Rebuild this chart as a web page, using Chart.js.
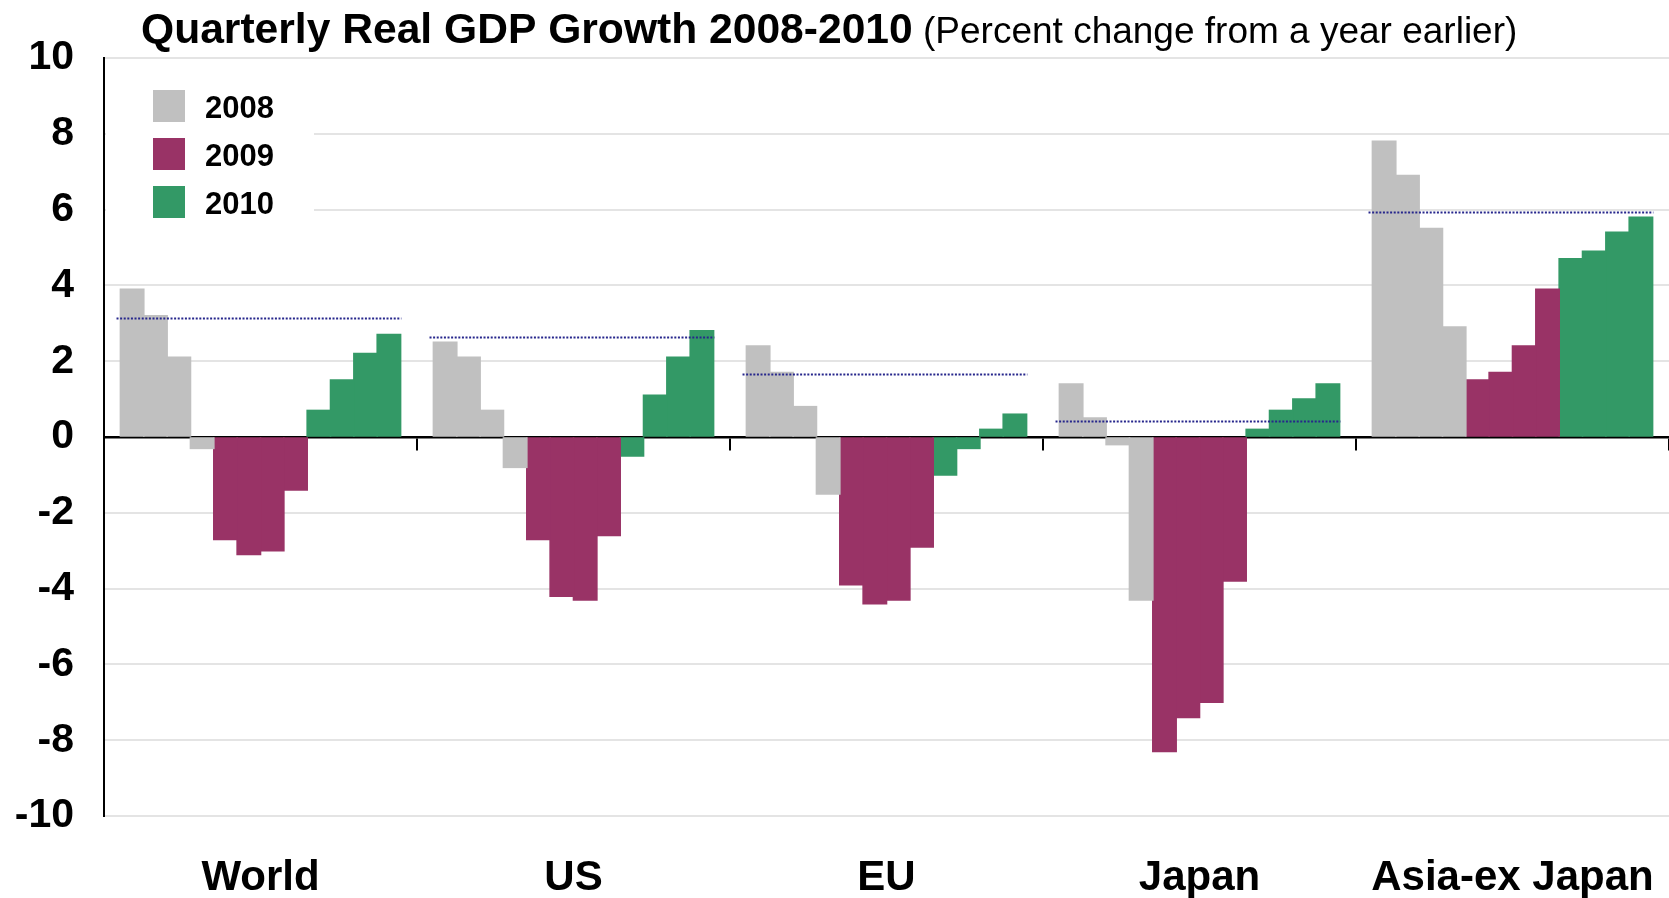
<!DOCTYPE html>
<html>
<head>
<meta charset="utf-8">
<title>Quarterly Real GDP Growth 2008-2010</title>
<script src="https://cdn.jsdelivr.net/npm/chart.js@4.4.1/dist/chart.umd.min.js"></script>
<style>
    html, body { margin: 0; padding: 0; background: #fff; }
    #gdpChart { display: block; }
</style>
</head>
<body>
<canvas id="gdpChart" width="1669" height="898"></canvas>
<script>
var FONT = '"Liberation Sans", Arial, sans-serif';

//////////////////////////////////////
//              Data                //
//////////////////////////////////////

var regions = ['World', 'US', 'EU', 'Japan', 'Asia-ex Japan'];
var quarters = ['2008 Q1', '2008 Q2', '2008 Q3', '2008 Q4',
                '2009 Q1', '2009 Q2', '2009 Q3', '2009 Q4',
                '2010 Q1', '2010 Q2', '2010 Q3', '2010 Q4'];
var years = ['2008', '2009', '2010'];
var yearColors = ['#c0c0c0', '#993366', '#339966'];

// percent change from a year earlier, 2008 Q1 .. 2010 Q4
var world       = [3.9, 3.2, 2.1, -0.3, -2.7, -3.1, -3.0, -1.4, 0.7, 1.5, 2.2, 2.7];
var us          = [2.5, 2.1, 0.7, -0.8, -2.7, -4.2, -4.3, -2.6, -0.5, 1.1, 2.1, 2.8];
var eu          = [2.4, 1.7, 0.8, -1.5, -3.9, -4.4, -4.3, -2.9, -1.0, -0.3, 0.2, 0.6];
var japan       = [1.4, 0.5, -0.2, -4.3, -8.3, -7.4, -7.0, -3.8, 0.2, 0.7, 1.0, 1.4];
var asiaExJapan = [7.8, 6.9, 5.5, 2.9, 1.5, 1.7, 2.4, 3.9, 4.7, 4.9, 5.4, 5.8];

// average growth level for each region (dotted lines)
var trendLevel = [3.14, 2.63, 1.67, 0.41, 5.93];

var yTicks = [-10, -8, -6, -4, -2, 0, 2, 4, 6, 8, 10];

var titleMain = 'Quarterly Real GDP Growth 2008-2010';
var titleSub = '(Percent change from a year earlier)';

//////////////////////////////////////
//            Datasets              //
//////////////////////////////////////

var seriesByRegion = [world, us, eu, japan, asiaExJapan];
var datasets = [];

// one bar dataset per quarter, so each region gets 12 adjacent bars
quarters.forEach(function(q, i) {
    datasets.push({
        label: q,
        data: seriesByRegion.map(function(s) { return s[i]; }),
        backgroundColor: yearColors[Math.floor(i / 4)],
        borderWidth: 0,
        inflateAmount: 0.8,   // closes the hairline seams between neighbours
        barPercentage: 1.0,
        categoryPercentage: 0.895
    });
});

//////////////////////////////////////
//             Plugins              //
//////////////////////////////////////

// dotted average line across each region group
// (drawn here rather than as line datasets: an extra x axis halves the bar width in 4.5)
var averageLines = {
    id: 'averageLines',
    afterDatasetsDraw: function(chart) {
        var ctx = chart.ctx;
        var xs = chart.scales.x;
        var ys = chart.scales.y;
        var step = xs.getPixelForValue(1) - xs.getPixelForValue(0);
        ctx.save();
        ctx.strokeStyle = '#26268c';
        ctx.lineWidth = 2;
        ctx.setLineDash([2, 1.6]);
        trendLevel.forEach(function(v, i) {
            var cx = xs.getPixelForValue(i);
            var py = Math.round(ys.getPixelForValue(v)) + 0.5;
            ctx.beginPath();
            ctx.moveTo(cx - 0.46 * step, py);
            ctx.lineTo(cx + 0.45 * step, py);
            ctx.stroke();
        });
        ctx.restore();
    }
};

var titlePlugin = {
    id: 'titleText',
    afterDraw: function(chart) {
        var ctx = chart.ctx;
        ctx.save();
        ctx.fillStyle = '#000';
        ctx.textBaseline = 'alphabetic';
        ctx.font = 'bold 42.6px ' + FONT;
        ctx.fillText(titleMain, 141, 43);
        var w = ctx.measureText(titleMain).width;
        ctx.font = '37px ' + FONT;
        ctx.fillText(' ' + titleSub, 141 + w, 43);
        ctx.restore();
    }
};

var yearLegend = {
    id: 'yearLegend',
    beforeDatasetsDraw: function(chart) {
        var ctx = chart.ctx;
        var area = chart.chartArea;
        ctx.save();
        // white box behind the legend hides the grid lines
        ctx.fillStyle = '#fff';
        ctx.fillRect(area.left + 2, 72, 208, 160);
        ctx.font = 'bold 31px ' + FONT;
        ctx.textBaseline = 'middle';
        years.forEach(function(y, i) {
            var top = 90 + i * 48;
            ctx.fillStyle = yearColors[i];
            ctx.fillRect(153, top, 32, 32);
            ctx.fillStyle = '#000';
            ctx.fillText(y, 205, top + 19);
        });
        ctx.restore();
    }
};

//////////////////////////////////////
//             Chart                //
//////////////////////////////////////

var chart = new Chart(document.getElementById('gdpChart').getContext('2d'), {
    type: 'bar',
    data: {
        labels: regions,
        datasets: datasets
    },
    options: {
        responsive: false,
        animation: false,
        layout: { padding: { top: 58, right: 0, bottom: 0, left: 0 } },
        plugins: {
            legend: { display: false },
            tooltip: { enabled: false }
        },
        scales: {
            x: {
                type: 'category',
                position: 'bottom',
                offset: true,
                grid: { display: false, drawTicks: false },
                border: { display: false },
                ticks: {
                    color: '#000',
                    padding: 37,
                    maxRotation: 0,
                    autoSkip: false,
                    font: { family: FONT, size: 42, weight: 'bold' }
                },
                afterFit: function(scale) {
                    scale.height = 82;
                    scale.paddingLeft = 0;
                    scale.paddingRight = 0;
                }
            },
            // category axis drawn across zero, with tick marks between regions
            x0: {
                type: 'category',
                position: { y: 0 },
                offset: true,
                grid: {
                    offset: true,
                    drawOnChartArea: false,
                    drawTicks: true,
                    tickLength: 12,
                    color: '#000',
                    lineWidth: 2
                },
                border: { display: true, color: '#000', width: 2.5 },
                ticks: { display: false }
            },
            y: {
                min: -10,
                max: 10,
                afterBuildTicks: function(scale) {
                    scale.ticks = yTicks.map(function(v) { return { value: v }; });
                },
                grid: {
                    drawTicks: false,
                    lineWidth: 2,
                    color: function(ctx) { return ctx.tick && ctx.tick.value === 0 ? '#000' : '#e4e4e4'; }
                },
                border: { display: true, color: '#000', width: 2 },
                ticks: {
                    color: '#000',
                    padding: 30,
                    font: { family: FONT, size: 41, weight: 'bold' }
                },
                afterFit: function(scale) { scale.width = 104; }
            }
        }
    },
    plugins: [yearLegend, averageLines, titlePlugin]
});
</script>
</body>
</html>
